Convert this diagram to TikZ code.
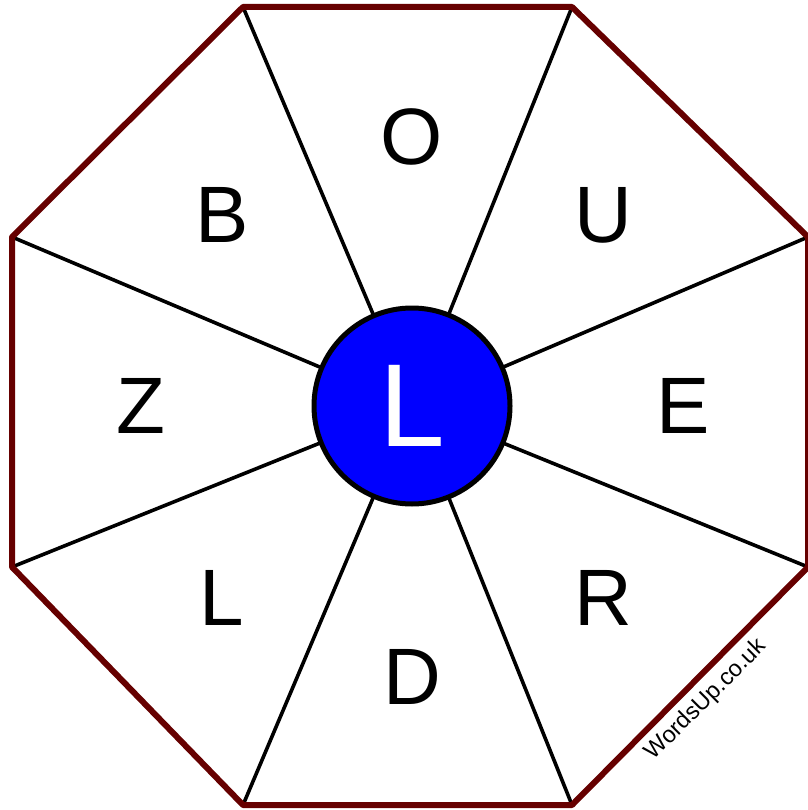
\documentclass[tikz,border=0pt]{standalone}
\usepackage{fontspec}
\setmainfont{Liberation Sans}
\definecolor{rim}{RGB}{102,0,0}
\begin{document}
\begin{tikzpicture}[x=1pt, y=-1pt, line join=round, line cap=round,
    spoke/.style={line width=3.6pt},
    letter/.style={font=\fontsize{80}{80}\selectfont, inner sep=0pt}]
	\useasboundingbox (0,0) rectangle (807,810);
	% corners of the octagon
	\coordinate (v1) at (243,7);
	\coordinate (v2) at (572,7);
	\coordinate (v3) at (808,237);
	\coordinate (v4) at (808,567);
	\coordinate (v5) at (572,805);
	\coordinate (v6) at (243,805);
	\coordinate (v7) at (12,567);
	\coordinate (v8) at (12,237);
	\node[circle, minimum size=196pt, inner sep=0pt] (hub) at (412,406) {};
	\foreach \i in {1,...,8}
		\draw[spoke] (hub) -- (v\i);
	\draw[rim, line width=6pt] (v1)--(v2)--(v3)--(v4)--(v5)--(v6)--(v7)--(v8)--cycle;
	\node[circle, draw, line width=5pt, fill=blue, minimum size=196pt, inner sep=0pt,
		text=white, font=\fontsize{118}{118}\selectfont] at (hub) {L};
	% letters round the wheel
	\node[letter] (o) at (412,137) {O};
	\node[letter] (u) at (603,215) {U};
	\node[letter] (e) at (683,406) {E};
	\node[letter] (r) at (603,598) {R};
	\node[letter] (d) at (412,677) {D};
	\node[letter] (l) at (222,598) {L};
	\node[letter] (z) at (141,406) {Z};
	\node[letter] (b) at (222,215) {B};
	\node[rotate=45, font=\fontsize{23.5}{23.5}\selectfont] (mark) at (706,700) {WordsUp.co.uk};
\end{tikzpicture}
\end{document}
